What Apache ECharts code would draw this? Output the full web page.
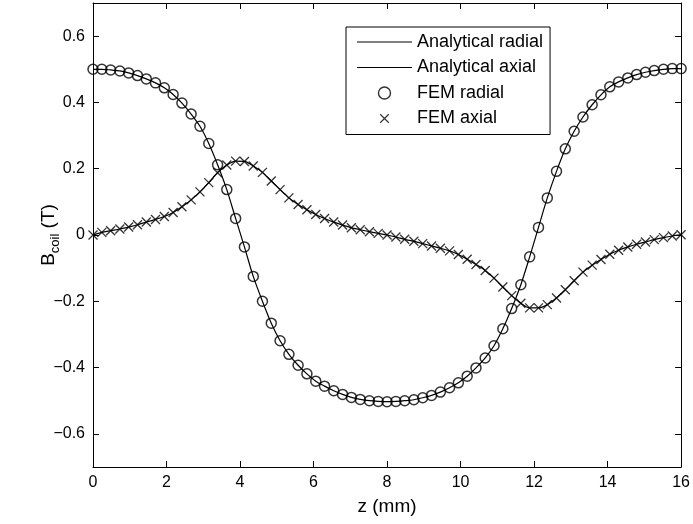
<!DOCTYPE html>
<html>
<head>
<meta charset="utf-8">
<script src="https://cdn.jsdelivr.net/npm/echarts@6/dist/echarts.min.js"></script>
<style>
html,body{margin:0;padding:0;background:#fff;}
#chart{width:693px;height:524px;}
</style>
</head>
<body>
<div id="chart"></div>
<script>
// z positions (mm)
const zValues = [0, 0.24, 0.48, 0.73, 0.97, 1.21, 1.45, 1.70, 1.94, 2.18,
  2.42, 2.67, 2.91, 3.15, 3.39, 3.64, 3.88, 4.12, 4.36, 4.61,
  4.85, 5.09, 5.33, 5.58, 5.82, 6.06, 6.30, 6.55, 6.79, 7.03,
  7.27, 7.52, 7.76, 8.00, 8.24, 8.48, 8.73, 8.97, 9.21, 9.45,
  9.70, 9.94, 10.18, 10.42, 10.67, 10.91, 11.15, 11.39, 11.64, 11.88,
  12.12, 12.36, 12.61, 12.85, 13.09, 13.33, 13.58, 13.82, 14.06, 14.30,
  14.55, 14.79, 15.03, 15.27, 15.52, 15.76, 16.00];

// FEM radial (T)
const femRadial = [0.500, 0.500, 0.498, 0.495, 0.489, 0.481, 0.471, 0.459, 0.444, 0.424,
  0.398, 0.365, 0.328, 0.276, 0.212, 0.137, 0.050, -0.036, -0.125, -0.200,
  -0.266, -0.319, -0.360, -0.393, -0.419, -0.441, -0.456, -0.470, -0.481, -0.490,
  -0.496, -0.500, -0.502, -0.503, -0.502, -0.500, -0.497, -0.491, -0.484, -0.474,
  -0.461, -0.446, -0.426, -0.401, -0.371, -0.334, -0.283, -0.222, -0.150, -0.066,
  0.023, 0.112, 0.192, 0.260, 0.313, 0.356, 0.393, 0.423, 0.447, 0.462,
  0.474, 0.484, 0.491, 0.496, 0.500, 0.502, 0.502];

// FEM axial (T)
const femAxial = [0.000, 0.008, 0.013, 0.018, 0.024, 0.031, 0.039, 0.047, 0.056, 0.068,
  0.085, 0.106, 0.130, 0.158, 0.188, 0.211, 0.223, 0.222, 0.208, 0.189,
  0.163, 0.137, 0.112, 0.092, 0.076, 0.062, 0.050, 0.039, 0.030, 0.022,
  0.016, 0.010, 0.005, 0.000, -0.006, -0.013, -0.019, -0.026, -0.033, -0.040,
  -0.048, -0.059, -0.073, -0.089, -0.107, -0.130, -0.157, -0.183, -0.206, -0.220,
  -0.220, -0.210, -0.190, -0.165, -0.138, -0.112, -0.091, -0.074, -0.058, -0.046,
  -0.036, -0.028, -0.021, -0.014, -0.008, -0.003, 0.001];

// Analytical curves coincide with the FEM values at the plotted z positions
const analyticalRadial = femRadial;
const analyticalAxial = femAxial;

const yTicks = [-0.6, -0.4, -0.2, 0, 0.2, 0.4, 0.6];
const seriesNames = ['Analytical radial', 'Analytical axial', 'FEM radial', 'FEM axial'];

const pairs = arr => zValues.map((z, i) => [z, arr[i]]);
const fmtY = v => (Math.abs(v) < 1e-9 ? '0' : v.toFixed(1)).replace('-', '\u2212');

const FONT = 'Liberation Sans, Arial, Helvetica, sans-serif';
const chart = echarts.init(document.getElementById('chart'), null, {renderer: 'canvas'});

const baseX = {
  type: 'value', min: 0, max: 16, interval: 2,
  axisLine: {show: true, onZero: false, lineStyle: {color: '#000', width: 1}},
  axisTick: {show: true, inside: true, length: 6, lineStyle: {color: '#000'}},
  splitLine: {show: false}
};
const baseY = {
  type: 'value', min: -0.7, max: 0.7,
  axisLine: {show: true, onZero: false, lineStyle: {color: '#000', width: 1}},
  axisTick: {show: true, inside: true, length: 6, customValues: yTicks, lineStyle: {color: '#000'}},
  splitLine: {show: false}
};

chart.setOption({
  animation: false,
  backgroundColor: '#fff',
  grid: {left: 93, right: 10, top: 3, bottom: 57, containLabel: false},
  xAxis: [
    Object.assign({}, baseX, {
      position: 'bottom',
      name: 'z (mm)', nameLocation: 'middle', nameGap: 30, nameMoveOverlap: false,
      nameTextStyle: {fontFamily: FONT, fontSize: 19, color: '#000'},
      axisLabel: {show: true, margin: 8, fontFamily: FONT, fontSize: 16, color: '#000'}
    }),
    Object.assign({}, baseX, {position: 'top', axisLabel: {show: false}})
  ],
  yAxis: [
    Object.assign({}, baseY, {
      position: 'left',
      name: '{b|B}{s|coil}{b| (T)}', nameLocation: 'middle', nameGap: 31, nameMoveOverlap: false,
      nameTextStyle: {
        fontFamily: FONT, color: '#000',
        rich: {
          b: {fontFamily: FONT, fontSize: 19, lineHeight: 26, color: '#000'},
          s: {fontFamily: FONT, fontSize: 13, lineHeight: 13, verticalAlign: 'bottom', color: '#000'}
        }
      },
      axisLabel: {show: true, margin: 8, fontFamily: FONT, fontSize: 16, color: '#000',
        customValues: yTicks, formatter: fmtY}
    }),
    Object.assign({}, baseY, {position: 'right', axisLabel: {show: false}})
  ],
  legend: {
    orient: 'vertical',
    left: 346, top: 27,
    padding: [6, 7, 7, 11],
    itemWidth: 55, itemHeight: 12, itemGap: 7.5,
    backgroundColor: '#fff',
    borderColor: '#000', borderWidth: 1, borderRadius: 0,
    textStyle: {fontFamily: FONT, fontSize: 18, lineHeight: 18, color: '#000', padding: [0, 0, 0, 0]},
    selectedMode: false,
    data: [
      {name: seriesNames[0], icon: 'path://M0,0H55V1H0Z'},
      {name: seriesNames[1], icon: 'path://M0,0H55V1H0Z'},
      {name: seriesNames[2], icon: 'circle',
        itemStyle: {color: 'rgba(0,0,0,0)', borderColor: '#000', borderWidth: 1.4}},
      {name: seriesNames[3], icon: 'path://M-2,-2M12,12M0,0L10,10M10,0L0,10',
        itemStyle: {color: 'rgba(0,0,0,0)', borderColor: '#000', borderWidth: 1.2}}
    ]
  },
  series: [
    {
      name: seriesNames[0], type: 'line', data: pairs(analyticalRadial),
      smooth: 0.3, showSymbol: false, symbol: 'none',
      lineStyle: {color: '#000', width: 1.2}, itemStyle: {color: '#000'}, z: 2
    },
    {
      name: seriesNames[1], type: 'line', data: pairs(analyticalAxial),
      smooth: 0.3, showSymbol: false, symbol: 'none',
      lineStyle: {color: '#000', width: 1.2}, itemStyle: {color: '#000'}, z: 2
    },
    {
      name: seriesNames[2], type: 'scatter', data: pairs(femRadial),
      symbol: 'circle', symbolSize: 10,
      itemStyle: {color: 'rgba(0,0,0,0)', borderColor: '#000', borderWidth: 1.5}, z: 3
    },
    {
      name: seriesNames[3], type: 'scatter', data: pairs(femAxial),
      symbol: 'path://M0,0L10,10M10,0L0,10', symbolSize: 9,
      itemStyle: {color: 'rgba(0,0,0,0)', borderColor: '#000', borderWidth: 1.3}, z: 3
    }
  ]
});
</script>
</body>
</html>
